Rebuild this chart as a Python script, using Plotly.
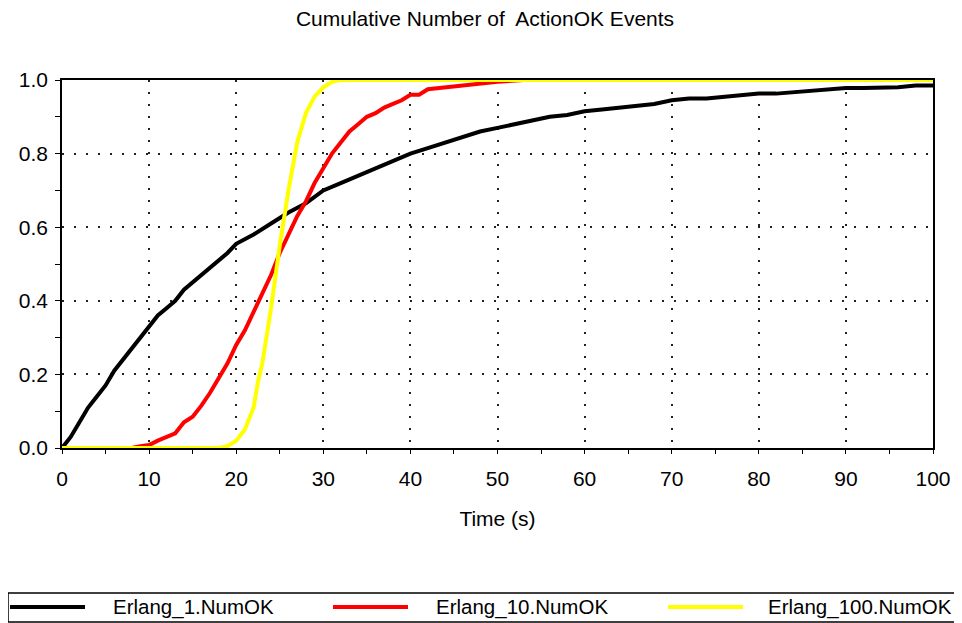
import plotly.graph_objects as go

# values
t_erl1 = [0, 1, 2, 3, 4, 5, 6, 7, 8, 9, 10, 11, 12, 13, 14, 15, 16, 17, 18, 19, 20,
          22, 24, 26, 28, 30, 32, 34, 36, 38, 40, 42, 44, 46, 48, 50, 52, 54, 56, 58,
          60, 62, 64, 66, 68, 70, 72, 74, 76, 78, 80, 82, 84, 86, 88, 90, 92, 94, 96, 98, 100]
erl1 = [0.0, 0.03, 0.07, 0.11, 0.14, 0.17, 0.21, 0.24, 0.27, 0.30, 0.33, 0.36, 0.38, 0.40,
        0.43, 0.45, 0.47, 0.49, 0.51, 0.53, 0.555,
        0.58, 0.61, 0.64, 0.665, 0.70, 0.72, 0.74, 0.76, 0.78, 0.80, 0.815, 0.83, 0.845,
        0.86, 0.87, 0.88, 0.89, 0.90, 0.905, 0.915, 0.92, 0.925, 0.93, 0.935, 0.945,
        0.95, 0.95, 0.955, 0.96, 0.963, 0.963, 0.967, 0.97, 0.975, 0.978, 0.978, 0.98,
        0.98, 0.985, 0.985]

t_erl10 = [0, 8, 9, 10, 11, 12, 13, 14, 15, 16, 17, 18, 19, 20, 21, 22, 23, 24, 25, 26,
           27, 28, 29, 30, 31, 32, 33, 34, 35, 36, 37, 38, 39, 40, 41, 42, 44, 45, 47,
           50, 53, 100]
erl10 = [0.0, 0.0, 0.005, 0.008, 0.02, 0.03, 0.04, 0.07, 0.085, 0.115, 0.15, 0.19, 0.23,
         0.28, 0.32, 0.37, 0.42, 0.47, 0.53, 0.58, 0.63, 0.67, 0.72, 0.76, 0.80, 0.83,
         0.86, 0.88, 0.90, 0.91, 0.925, 0.935, 0.945, 0.96, 0.96, 0.975, 0.98, 0.985,
         0.99, 0.995, 1.0, 1.0]

t_erl100 = [0, 18, 19, 20, 21, 22, 22.5, 23, 24, 25, 26, 27, 28, 29, 30, 31, 32, 100]
erl100 = [0.0, 0.0, 0.005, 0.02, 0.05, 0.11, 0.18, 0.23, 0.38, 0.55, 0.70, 0.83, 0.91,
          0.955, 0.98, 0.995, 1.0, 1.0]

names = ["Erlang_1.NumOK", "Erlang_10.NumOK", "Erlang_100.NumOK"]
colors = ["#000000", "#ff0000", "#ffff00"]

font = "Liberation Sans, Arial, sans-serif"

# page body has an 8px margin, so the figure is 8px smaller than the window
W, H = 954, 615
ML, MR, MT, MB = 54, 29, 72, 175
pw, ph = W - ML - MR, H - MT - MB


def px(x):
    return (x - ML) / pw


def py(y):
    return (H - MB - y) / ph


fig = go.Figure()
for tx, vals, nm, col in zip([t_erl1, t_erl10, t_erl100], [erl1, erl10, erl100], names, colors):
    fig.add_trace(go.Scatter(x=tx, y=vals, mode="lines", name=nm,
                             line=dict(color=col, width=4)))

fig.update_layout(
    width=W, height=H,
    margin=dict(l=ML, r=MR, t=MT, b=MB, autoexpand=False),
    paper_bgcolor="white", plot_bgcolor="white",
    font=dict(family=font, size=21, color="black"),
    title=dict(text="Cumulative Number of  ActionOK Events", x=0.5, xanchor="center",
               y=1 - 11 / H, yanchor="middle", font=dict(size=21)),
    showlegend=False,
)

grid = dict(showgrid=True, gridcolor="#222222", gridwidth=2, griddash="2px,10px",
            zeroline=False)

fig.update_xaxes(range=[0, 100], dtick=10, showline=True, linecolor="black", linewidth=1.5,
                 mirror=True, ticks="outside", ticklen=4, tickcolor="black",
                 ticklabelstandoff=7,
                 minor=dict(dtick=5, ticks="outside", ticklen=4, tickcolor="black",
                            showgrid=False),
                 title=dict(text="Time (s)", standoff=22, font=dict(size=21)), **grid)
fig.update_yaxes(range=[0, 1], dtick=0.2, tickformat=".1f", showline=True,
                 linecolor="black", linewidth=1.5, mirror=True, ticks="outside",
                 ticklen=5, tickcolor="black", ticklabelstandoff=3,
                 minor=dict(dtick=0.1, ticks="outside", ticklen=5, tickcolor="black",
                            showgrid=False), **grid)

# inside half of the crossing ticks
fig.update_layout(
    xaxis2=dict(overlaying="x", anchor="y", range=[0, 100], dtick=5, ticks="inside",
                ticklen=5, tickcolor="black", showticklabels=False, showgrid=False,
                showline=False, zeroline=False),
    yaxis2=dict(overlaying="y", anchor="x", range=[0, 1], dtick=0.1, ticks="inside",
                ticklen=5, tickcolor="black", showticklabels=False, showgrid=False,
                showline=False, zeroline=False),
)

# legend box along the bottom, entries spread across the full width
fig.add_shape(type="rect", xref="paper", yref="paper",
              x0=px(0), x1=px(952), y0=py(585), y1=py(614),
              line=dict(color="black", width=1.5), fillcolor="white")
leg_line_x = [2, 325, 660]
leg_text_x = [103, 426, 758]
for lx, tx, nm, col in zip(leg_line_x, leg_text_x, names, colors):
    fig.add_shape(type="line", xref="paper", yref="paper",
                  x0=px(lx), x1=px(lx + 75), y0=py(599), y1=py(599),
                  line=dict(color=col, width=4))
    fig.add_annotation(text=nm, xref="paper", yref="paper", x=px(tx), y=py(599),
                       xanchor="left", yanchor="middle", showarrow=False,
                       font=dict(size=20.5, color="black"))

fig.write_html("out.html")
